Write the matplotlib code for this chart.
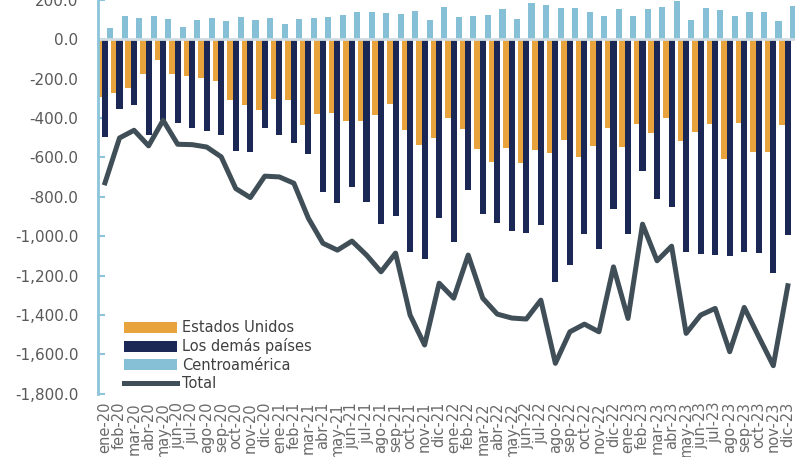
import matplotlib
matplotlib.use("Agg")
import matplotlib.pyplot as plt
import numpy as np
from matplotlib.ticker import FuncFormatter, FixedLocator

months = ["ene", "feb", "mar", "abr", "may", "jun", "jul", "ago", "sep", "oct", "nov", "dic"]
categories = [f"{m}-{y}" for y in ["20", "21", "22", "23"] for m in months]

estados_unidos = [-293, -271, -247, -174, -103, -178, -186, -195, -212, -306, -332, -360,
                  -303, -306, -437, -377, -374, -415, -415, -386, -327, -462, -535, -499,
                  -398, -455, -558, -623, -552, -628, -562, -577, -509, -597, -541, -449,
                  -548, -428, -478, -398, -518, -470, -428, -606, -425, -572, -572, -435]
demas_paises = [-496, -355, -332, -484, -411, -423, -448, -465, -487, -569, -574, -450,
                -484, -526, -580, -775, -829, -751, -824, -939, -898, -1080, -1118, -906,
                -1029, -766, -885, -931, -975, -986, -944, -1232, -1144, -991, -1066, -863,
                -990, -670, -813, -851, -1080, -1091, -1095, -1102, -1081, -1083, -1188, -995]
centroamerica = [59, 118, 108, 118, 103, 63, 98, 107, 91, 112, 100, 107,
                 80, 102, 110, 115, 122, 140, 137, 132, 127, 144, 96, 165,
                 112, 117, 124, 152, 103, 184, 174, 161, 161, 137, 120, 152,
                 120, 152, 165, 194, 100, 161, 147, 117, 139, 137, 95, 168]
total = [-729, -501, -462, -541, -411, -533, -535, -547, -597, -758, -804, -695,
         -699, -731, -909, -1036, -1071, -1025, -1096, -1181, -1086, -1401, -1553, -1239,
         -1315, -1096, -1315, -1396, -1416, -1421, -1325, -1646, -1486, -1447, -1486, -1156,
         -1418, -939, -1125, -1051, -1494, -1401, -1367, -1587, -1362, -1511, -1658, -1252]

c_us = "#E8A33D"
c_ot = "#1B2754"
c_ca = "#86C0D6"
c_tot = "#3F4E57"
axis_blue = "#8CC4DA"
txt = "#595959"

plt.rcParams["font.family"] = ["DejaVu Sans"]

fig = plt.figure(figsize=(8.09, 4.57), dpi=100)
ax = fig.add_axes([0.1208, 0.1387, 0.862, 0.8613])

x = np.arange(len(categories))
w = 0.42
b1 = ax.bar(x - 0.38, estados_unidos, width=w, color=c_us, label="Estados Unidos", zorder=2)
b2 = ax.bar(x, demas_paises, width=w, color=c_ot, label="Los demás países", zorder=2.1)
b3 = ax.bar(x + 0.36, centroamerica, width=w, color=c_ca, label="Centroamérica", zorder=2)
ax.axhline(0, color="#D0DCE2", lw=2, zorder=2.5)
l1, = ax.plot(x, total, color=c_tot, lw=3.6, label="Total", zorder=3)

ax.set_xlim(-0.5, len(categories) - 0.5)
ax.set_ylim(-1800, 200)
ax.yaxis.set_major_locator(FixedLocator(np.arange(-1800, 201, 200)))
ax.yaxis.set_major_formatter(FuncFormatter(lambda v, p: f"{v:,.1f}"))
ax.set_xticks(x)
ax.set_xticklabels(categories, rotation=90)

for s in ["top", "right", "bottom"]:
    ax.spines[s].set_visible(False)
ax.spines["left"].set_color(axis_blue)
ax.spines["left"].set_linewidth(2)
ax.tick_params(axis="y", direction="in", length=5, width=1.5, color=axis_blue,
               labelsize=11, labelcolor=txt, pad=14)
ax.tick_params(axis="x", length=0, labelsize=10.5, labelcolor="#6a6a6a", pad=6)

leg = fig.legend(handles=[b1, b2, b3, l1],
                 labels=["Estados Unidos", "Los demás países", "Centroamérica", "Total"],
                 loc="upper left", bbox_to_anchor=(117 / 809, 1 - 313 / 457),
                 frameon=False, fontsize=10.5, handlelength=3.6, handleheight=0.75,
                 handletextpad=0.35, labelspacing=0.22, borderpad=0)
for t in leg.get_texts():
    t.set_color("#404040")

fig.savefig("out.png", dpi=100)
